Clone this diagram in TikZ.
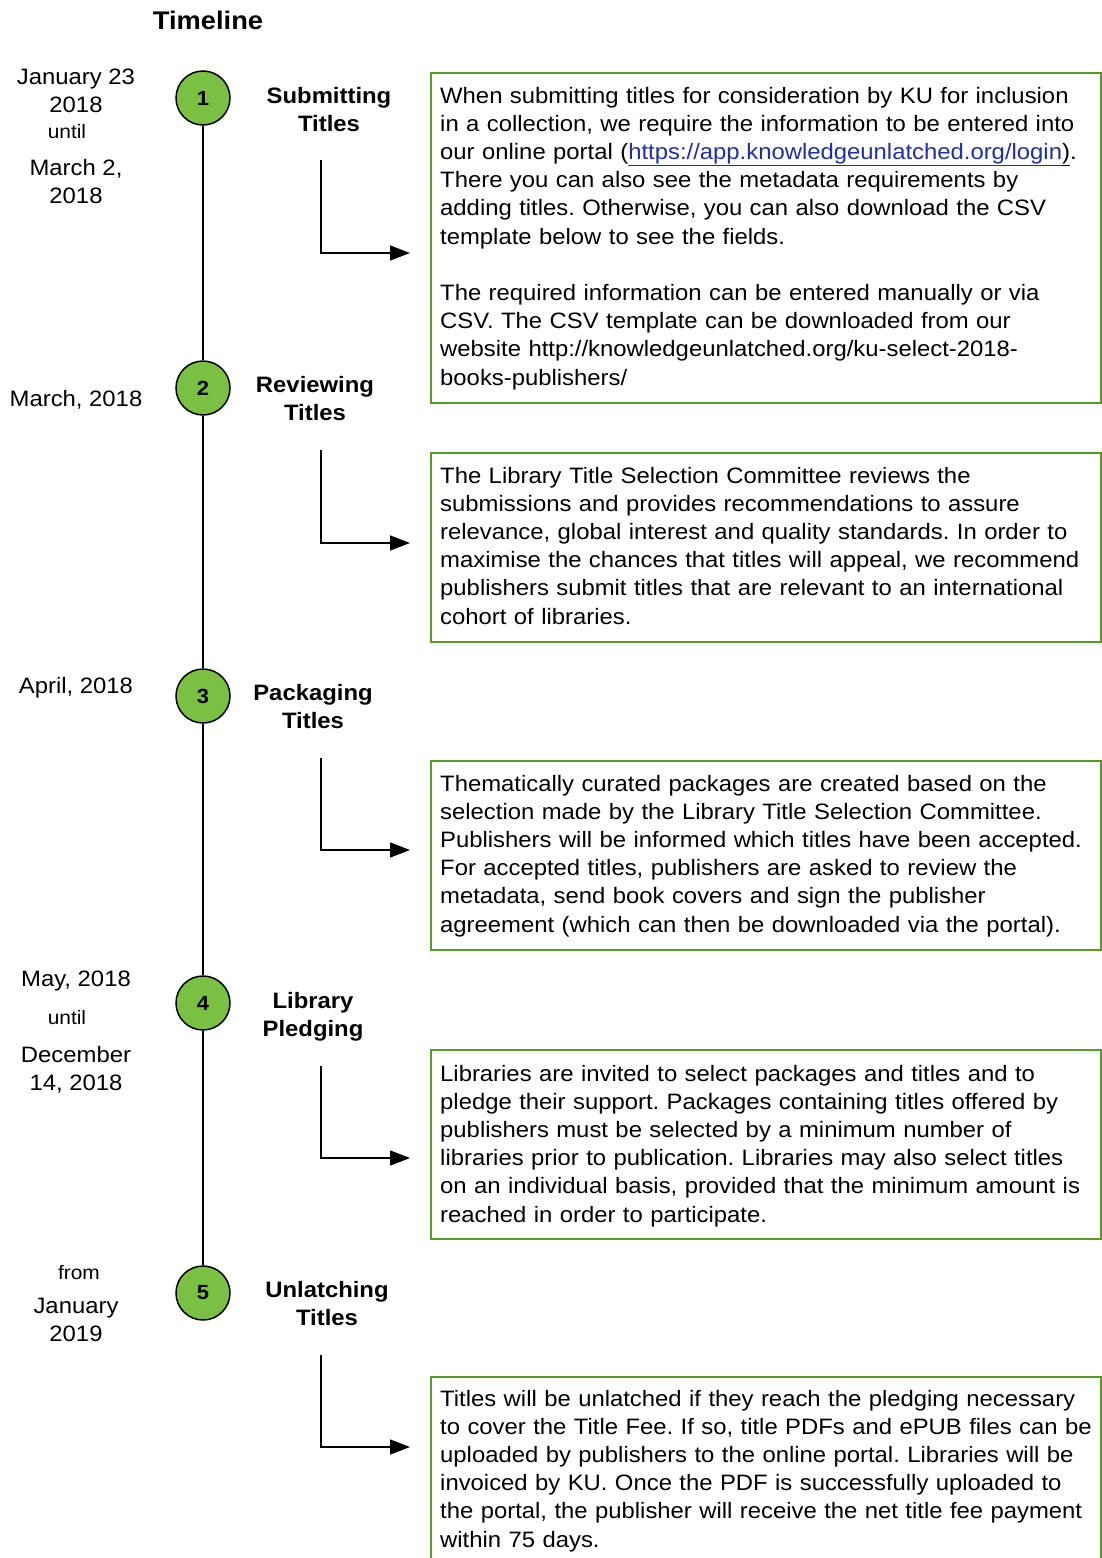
\documentclass[tikz,border=0pt]{standalone}
\usepackage{fontspec}
\setmainfont{Liberation Sans}[FakeStretch=1.07]
\usetikzlibrary{arrows.meta}
\definecolor{circfill}{HTML}{7AC143}
\definecolor{boxgreen}{HTML}{5A9A22}
\definecolor{linkblue}{HTML}{1F2FA8}
\frenchspacing
\tikzset{
  x=1pt, y=-1pt,
  stepcirc/.style={circle, draw=black, line width=1.5pt, fill=circfill, minimum size=54pt, inner sep=0pt, font=\fontsize{20.5}{20}\selectfont\bfseries},
  infobox/.style={draw=boxgreen, line width=1.8pt, rectangle, minimum width=670pt, anchor=north west, inner sep=0pt},
  boxtext/.style={anchor=base west, align=left, text width=665pt, inner sep=0pt, font=\fontsize{22.3}{28.2}\selectfont\frenchspacing},
  heading/.style={anchor=base, align=center, inner sep=0pt, font=\fontsize{22.3}{28}\selectfont\bfseries},
  datetext/.style={anchor=base, align=center, inner sep=0pt, font=\fontsize{22.3}{28}\selectfont},
  smalldate/.style={anchor=base, align=center, inner sep=0pt, font=\fontsize{19.5}{22}\selectfont},
  tline/.style={line width=1.5pt},
  elbow/.style={line width=1.5pt, -{Triangle[length=20pt,width=15pt]}}
}
\begin{document}
\begin{tikzpicture}
\useasboundingbox (0,0) rectangle (1101,1558);

\node[anchor=base, inner sep=0pt, font=\fontsize{25.5}{28}\selectfont\bfseries] (title) at (208,29) {Timeline};

% circles
\node[stepcirc] (c1) at (203,98) {1};
\node[stepcirc] (c2) at (203,388) {2};
\node[stepcirc] (c3) at (203,696) {3};
\node[stepcirc] (c4) at (203,1003) {4};
\node[stepcirc] (c5) at (203,1293) {5};
\draw[tline] (c1) -- (c2);
\draw[tline] (c2) -- (c3);
\draw[tline] (c3) -- (c4);
\draw[tline] (c4) -- (c5);

% dates (two-line nodes: base anchor is at the last line)
\node[datetext] (d1a) at (76,112) {January 23\\2018};
\node[smalldate] (d1u) at (67,138) {until};
\node[datetext] (d1b) at (76,203) {March 2,\\2018};
\node[datetext] (d2) at (76,406) {March, 2018};
\node[datetext] (d3) at (76,693) {April, 2018};
\node[datetext] (d4a) at (76,986) {May, 2018};
\node[smalldate] (d4u) at (67,1024) {until};
\node[datetext] (d4b) at (76,1090) {December\\14, 2018};
\node[smalldate] (d5f) at (79,1279) {from};
\node[datetext] (d5) at (76,1341) {January\\2019};

% headings
\node[heading] (h1) at (329,131) {Submitting\\Titles};
\node[heading] (h2) at (315,420) {Reviewing\\Titles};
\node[heading] (h3) at (313,728) {Packaging\\Titles};
\node[heading] (h4) at (313,1036) {Library\\Pledging};
\node[heading] (h5) at (327,1325) {Unlatching\\Titles};

% boxes
\node[infobox, minimum height=330pt] (b1) at (430,72) {};
\node[infobox, minimum height=189pt] (b2) at (430,452) {};
\node[infobox, minimum height=189pt] (b3) at (430,760) {};
\node[infobox, minimum height=189pt] (b4) at (430,1049) {};
\node[infobox, minimum height=200pt] (b5) at (430,1376) {};

\node[boxtext] (t1) at (440,103) {When submitting titles for consideration by KU for inclusion\\
in a collection, we require the information to be entered into\\
our online portal (\textcolor{linkblue}{\underline{https://app.knowledgeunlatched.org/login}}\underline{)}.\\
There you can also see the metadata requirements by\\
adding titles. Otherwise, you can also download the CSV\\
template below to see the fields.\\
\mbox{}\\
The required information can be entered manually or via\\
CSV. The CSV template can be downloaded from our\\
website http://knowledgeunlatched.org/ku-select-2018-\\
books-publishers/};

\node[boxtext] (t2) at (440,483) {The Library Title Selection Committee reviews the\\
submissions and provides recommendations to assure\\
relevance, global interest and quality standards. In order to\\
maximise the chances that titles will appeal, we recommend\\
publishers submit titles that are relevant to an international\\
cohort of libraries.};

\node[boxtext] (t3) at (440,791) {Thematically curated packages are created based on the\\
selection made by the Library Title Selection Committee.\\
Publishers will be informed which titles have been accepted.\\
For accepted titles, publishers are asked to review the\\
metadata, send book covers and sign the publisher\\
agreement (which can then be downloaded via the portal).};

\node[boxtext] (t4) at (440,1081) {Libraries are invited to select packages and titles and to\\
pledge their support. Packages containing titles offered by\\
publishers must be selected by a minimum number of\\
libraries prior to publication. Libraries may also select titles\\
on an individual basis, provided that the minimum amount is\\
reached in order to participate.};

\node[boxtext] (t5) at (440,1406) {Titles will be unlatched if they reach the pledging necessary\\
to cover the Title Fee. If so, title PDFs and ePUB files can be\\
uploaded by publishers to the online portal. Libraries will be\\
invoiced by KU. Once the PDF is successfully uploaded to\\
the portal, the publisher will receive the net title fee payment\\
within 75 days.};

% elbow arrows
\coordinate (s1) at (321,160); \coordinate (e1) at (410,253);
\coordinate (s2) at (321,450); \coordinate (e2) at (410,543);
\coordinate (s3) at (321,758); \coordinate (e3) at (410,850);
\coordinate (s4) at (321,1066); \coordinate (e4) at (410,1158);
\coordinate (s5) at (321,1355); \coordinate (e5) at (410,1447);
\draw[elbow] (s1) |- (e1);
\draw[elbow] (s2) |- (e2);
\draw[elbow] (s3) |- (e3);
\draw[elbow] (s4) |- (e4);
\draw[elbow] (s5) |- (e5);
\end{tikzpicture}
\end{document}
